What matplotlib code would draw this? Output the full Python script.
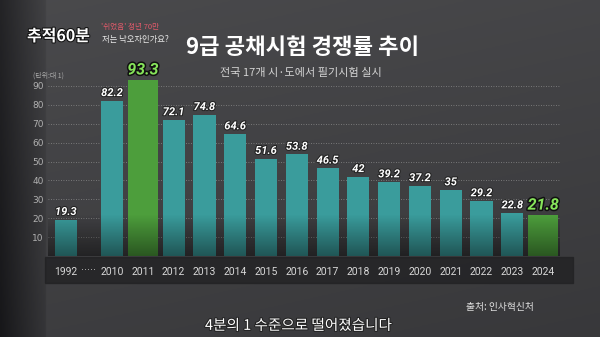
import matplotlib.pyplot as plt
import matplotlib.patheffects as pe
import numpy as np
from matplotlib.patches import Rectangle

years = ["1992", "2010", "2011", "2012", "2013", "2014", "2015", "2016",
         "2017", "2018", "2019", "2020", "2021", "2022", "2023", "2024"]
rates = [19.3, 82.2, 93.3, 72.1, 74.8, 64.6, 51.6, 53.8,
         46.5, 42, 39.2, 37.2, 35, 29.2, 22.8, 21.8]
highlight = ["2011", "2024"]
yticks = [10, 20, 30, 40, 50, 60, 70, 80, 90]

title = "9급 공채시험 경쟁률 추이"
subtitle = "전국 17개 시·도에서 필기시험 실시"
unit_label = "(단위:대 1)"
source = "출처: 인사혁신처"
caption = "4분의 1 수준으로 떨어졌습니다"

KR = ["Noto Sans CJK KR", "DejaVu Sans"]
NUM = ["Roboto", "DejaVu Sans"]
TEAL = "#3a9c9c"
GREEN = "#4d9e3c"

fig = plt.figure(figsize=(6, 3.37), dpi=100)

# background: dark on the left, grey elsewhere
bg = fig.add_axes([0, 0, 1, 1], zorder=-10)
gx = np.linspace(0, 1, 300)
gy = np.linspace(0, 1, 170)
X, Y = np.meshgrid(gx, gy)
lum = 0.24 + 0.05 * Y - 0.02 * X
lum = np.where(X < 0.075, lum - 0.12 * (0.075 - X) / 0.075 - 0.03, lum)
bg.imshow(np.dstack([lum, lum, lum + 0.01]), extent=[0, 1, 0, 1],
          aspect="auto", origin="lower")
bg.set_xlim(0, 1)
bg.set_ylim(0, 1)
bg.axis("off")

# dark band behind the year labels
fig.patches.append(Rectangle((0.075, 0.16), 0.88, 0.077, transform=fig.transFigure,
                             color="#202022", alpha=0.75, zorder=-5))

ax = fig.add_axes([0.08, 0.240, 0.853, 0.561])
ax.set_facecolor("none")

pos = np.arange(len(years), dtype=float)
pos[1:] += 0.5

for p, yr, v in zip(pos, years, rates):
    hi = yr in highlight
    w = 0.98 if hi else 0.72
    ax.bar(p, v, width=w, color=GREEN if hi else TEAL, zorder=2)
    if hi:
        ax.text(p, v + 1.2, f"{v:g}", ha="center", va="bottom", color="#86e35a",
                fontsize=11.5, fontweight="bold", style="italic", family=NUM,
                zorder=5, path_effects=[pe.withStroke(linewidth=2.2, foreground="#111")])
    else:
        ax.text(p, v + 1.4, f"{v:g}", ha="center", va="bottom", color="white",
                fontsize=8, fontweight="bold", style="italic", family=NUM,
                zorder=5, path_effects=[pe.withStroke(linewidth=1.5, foreground="#222")])

# fade bars towards the bottom
fade = np.zeros((60, 2, 4))
fade[..., 3] = np.linspace(0.45, 0, 60)[:, None]
ax.imshow(fade, extent=[-0.6, 16.1, 0, 22], aspect="auto", origin="lower", zorder=3)

ax.set_xlim(-0.58, 16.04)
ax.set_ylim(0, 100)
ax.set_yticks(yticks)
ax.set_yticklabels([str(t) for t in yticks], fontsize=6.5, color="#b0b0b0")
ax.tick_params(axis="y", length=0, pad=3)
ax.set_xticks(pos)
ax.set_xticklabels(years, fontsize=7.5, color="#d8d8d8", family=NUM)
ax.tick_params(axis="x", length=0, pad=8)
for t in yticks:
    ax.axhline(t, color="#8a8a8a", lw=0.6, ls=(0, (1, 2)), zorder=1)
for s in ax.spines.values():
    s.set_visible(False)
ax.text((pos[0] + pos[1]) / 2, -7.2, "·····", ha="center", va="center",
        color="#bbbbbb", fontsize=7)

# texts
fig.text(0.505, 0.858, title, ha="center", va="center", fontsize=16,
         fontweight="black", color="white", family=KR)
fig.text(0.502, 0.783, subtitle, ha="center", va="center", fontsize=8,
         color="#d4d4d4", family=KR)
fig.text(0.055, 0.775, unit_label, ha="left", va="center", fontsize=5,
         color="#aaaaaa", family=KR)
fig.text(0.833, 0.089, source, ha="center", va="center", fontsize=7,
         color="#e0e0e0", family=KR)
fig.text(0.497, 0.033, caption, ha="center", va="center", fontsize=10.5,
         color="white", family=KR,
         path_effects=[pe.withStroke(linewidth=1.5, foreground="#222")])

# programme logo
fig.text(0.045, 0.893, "추적60분", ha="left", va="center", fontsize=11.5,
         fontweight="black", color="white", family=KR,
         path_effects=[pe.withStroke(linewidth=1.5, foreground="#111")])
fig.text(0.168, 0.92, "'쉬었음' 청년 70만", ha="left", va="center", fontsize=5.5,
         color="#e05a6a", family=KR)
fig.text(0.170, 0.882, "저는 낙오자인가요?", ha="left", va="center", fontsize=6,
         color="#e8e8e8", family=KR)

fig.savefig("out.png", dpi=100)
plt.close(fig)
